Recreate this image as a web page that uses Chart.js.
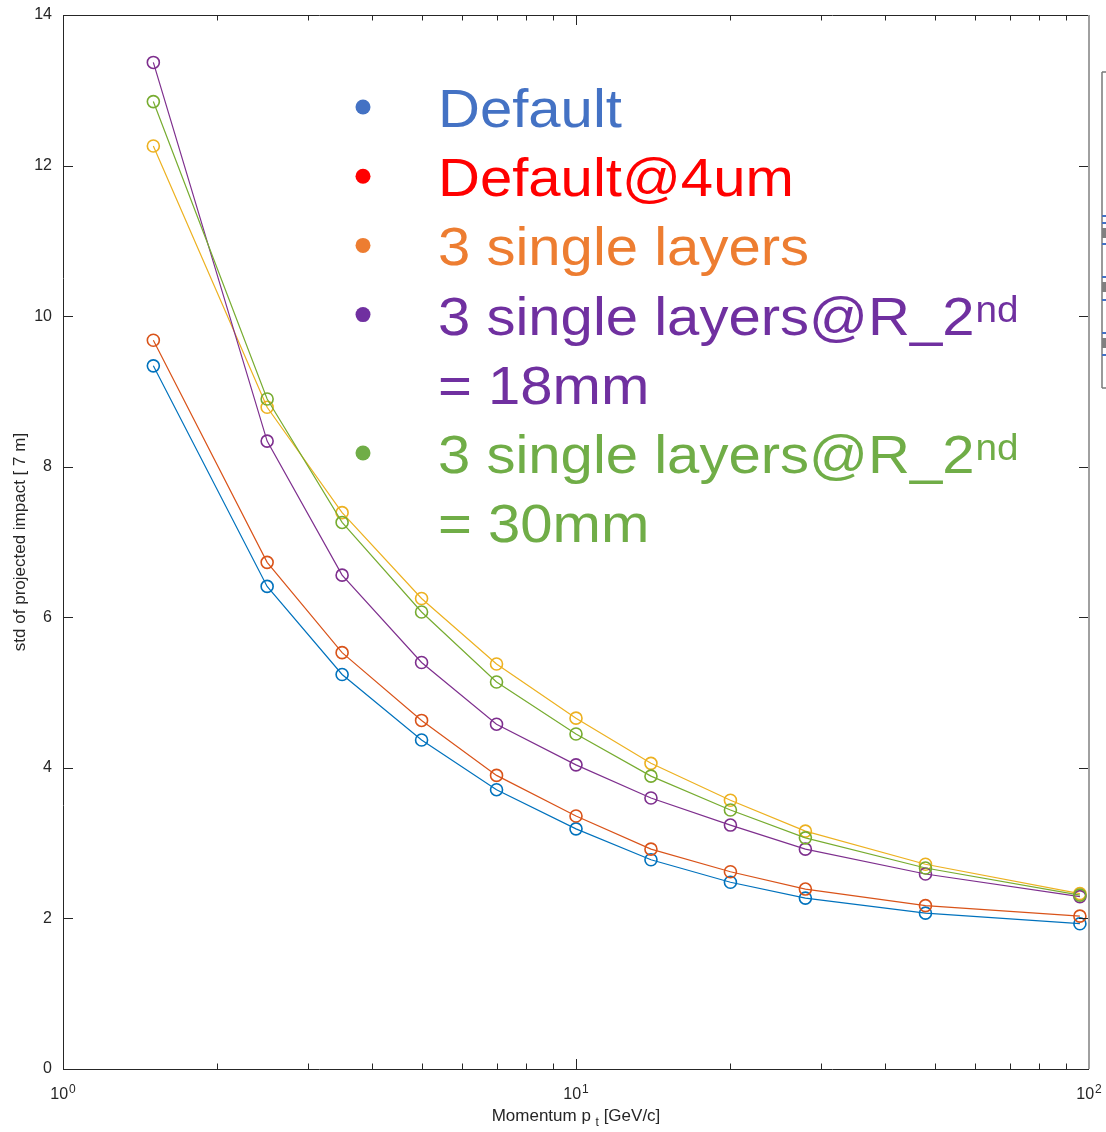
<!DOCTYPE html>
<html lang="en">
<head>
<meta charset="UTF-8">
<title>std of projected impact vs momentum</title>
<script src="https://cdn.jsdelivr.net/npm/chart.js"></script>
<style>
  html, body { margin: 0; padding: 0; background: #fff; }
  canvas { display: block; }
</style>
</head>
<body>
<canvas id="impactChart" width="1106" height="1132"></canvas>
<script>
// transverse momentum of the points [GeV/c]
const momentum = [1.5, 2.5, 3.5, 5, 7, 10, 14, 20, 28, 48, 96];

// std of projected impact, one array per layout
const stdDefault    = [9.34, 6.41, 5.24, 4.37, 3.71, 3.19, 2.78, 2.48, 2.27, 2.07, 1.93];
const stdDefault4um = [9.68, 6.73, 5.53, 4.63, 3.90, 3.36, 2.92, 2.62, 2.39, 2.17, 2.03];
const stdSingle     = [12.26, 8.79, 7.39, 6.25, 5.38, 4.66, 4.06, 3.57, 3.16, 2.72, 2.33];
const stdSingle18   = [13.37, 8.34, 6.56, 5.40, 4.58, 4.04, 3.60, 3.24, 2.92, 2.59, 2.29];
const stdSingle30   = [12.85, 8.90, 7.26, 6.07, 5.14, 4.45, 3.89, 3.44, 3.07, 2.67, 2.31];

const seriesNames = ['Default', 'Default@4um', '3 single layers',
                     '3 single layers@R_2nd = 18mm', '3 single layers@R_2nd = 30mm'];
const seriesValues = [stdDefault, stdDefault4um, stdSingle, stdSingle18, stdSingle30];
const lineColors = ['#0072BD', '#D95319', '#EDB120', '#7E2F8E', '#77AC30'];

// axis ticks
const xMajorTicks = [1, 10, 100];
const xMinorTicks = [2, 3, 4, 5, 6, 7, 8, 9, 20, 30, 40, 50, 60, 70, 80, 90];
const yTicks = [0, 2, 4, 6, 8, 10, 12, 14];

// the pasted text box used as legend
const legendText = ['Default', 'Default@4um', '3 single layers', '3 single layers@R_2',
                    '= 18mm', '3 single layers@R_2', '= 30mm'];
const legendSup = ['', '', '', 'nd', '', 'nd', ''];
const legendColors = ['#4472C4', '#FF0000', '#ED7D31', '#7030A0', '#7030A0', '#70AD47', '#70AD47'];
const legendBullet = [true, true, true, true, false, true, false];

const AXIS = '#262626';
const FONT = '"Liberation Sans", Arial, Helvetica, sans-serif';

// box, inward ticks, x labels with exponents, x title with subscript
const framePlugin = {
    id: 'frame',
    afterDraw(chart) {
        const { ctx, chartArea: a, scales: { x, y } } = chart;
        ctx.save();

        ctx.strokeStyle = AXIS;
        ctx.lineWidth = 1;
        ctx.beginPath();
        const xTick = (v, len) => {
            const px = Math.round(x.getPixelForValue(v)) + 0.5;
            ctx.moveTo(px, a.bottom); ctx.lineTo(px, a.bottom - len);
            ctx.moveTo(px, a.top); ctx.lineTo(px, a.top + len);
        };
        xMinorTicks.forEach(v => xTick(v, 5.5));
        xMajorTicks.forEach(v => xTick(v, 10));
        yTicks.forEach(v => {
            const py = Math.round(y.getPixelForValue(v)) + 0.5;
            ctx.moveTo(a.left, py); ctx.lineTo(a.left + 10, py);
            ctx.moveTo(a.right, py); ctx.lineTo(a.right - 10, py);
        });
        ctx.stroke();

        // left, top, bottom edges
        ctx.beginPath();
        ctx.moveTo(Math.round(a.left) + 0.5, a.top);
        ctx.lineTo(Math.round(a.left) + 0.5, a.bottom);
        ctx.moveTo(a.left, Math.round(a.top) + 0.5);
        ctx.lineTo(a.right, Math.round(a.top) + 0.5);
        ctx.moveTo(a.left, Math.round(a.bottom) + 0.5);
        ctx.lineTo(a.right, Math.round(a.bottom) + 0.5);
        ctx.stroke();
        // right edge is lighter
        ctx.strokeStyle = '#a0a0a0';
        ctx.lineWidth = 2;
        ctx.beginPath();
        ctx.moveTo(a.right, a.top);
        ctx.lineTo(a.right, a.bottom);
        ctx.stroke();

        // x tick labels 10^n
        ctx.fillStyle = AXIS;
        ctx.textBaseline = 'alphabetic';
        ctx.textAlign = 'left';
        xMajorTicks.forEach(v => {
            const px = x.getPixelForValue(v);
            const exp = String(Math.round(Math.log10(v)));
            ctx.font = '16px ' + FONT;
            const wBase = ctx.measureText('10').width;
            ctx.font = '12px ' + FONT;
            const wExp = ctx.measureText(exp).width;
            const start = px - (wBase + 1 + wExp) / 2;
            ctx.font = '16px ' + FONT;
            ctx.fillText('10', start, a.bottom + 30);
            ctx.font = '12px ' + FONT;
            ctx.fillText(exp, start + wBase + 1, a.bottom + 24);
        });

        // x title: Momentum p_t [GeV/c]
        const t1 = 'Momentum p ', t2 = 't', t3 = ' [GeV/c]';
        ctx.font = '17px ' + FONT;
        const w1 = ctx.measureText(t1).width, w3 = ctx.measureText(t3).width;
        ctx.font = '12px ' + FONT;
        const w2 = ctx.measureText(t2).width;
        const cx = (a.left + a.right) / 2;
        const sx = cx - (w1 + w2 + w3) / 2;
        const base = a.bottom + 52;
        ctx.font = '17px ' + FONT;
        ctx.fillText(t1, sx, base);
        ctx.font = '12px ' + FONT;
        ctx.fillText(t2, sx + w1, base + 5);
        ctx.font = '17px ' + FONT;
        ctx.fillText(t3, sx + w1 + w2, base);

        // cropped edge of a neighbouring object at the far right
        ctx.strokeStyle = '#7a7a7a';
        ctx.lineWidth = 1.5;
        ctx.beginPath();
        ctx.moveTo(1102, 72); ctx.lineTo(1102, 388);
        ctx.moveTo(1102, 72); ctx.lineTo(1106, 72);
        ctx.moveTo(1102, 388); ctx.lineTo(1106, 388);
        ctx.stroke();
        ctx.fillStyle = '#4472C4';
        [216, 223, 244, 277, 300, 333, 355].forEach(py => ctx.fillRect(1102, py - 1, 4, 2));
        ctx.fillStyle = '#808080';
        [228, 282, 338].forEach(py => ctx.fillRect(1102, py, 4, 10));

        ctx.restore();
    }
};

// big coloured legend text box over the plot
const legendBoxPlugin = {
    id: 'legendBox',
    afterDraw(chart) {
        const ctx = chart.ctx;
        const textX = 438, bulletX = 363, firstBase = 127, step = 69.2, stretch = 1.075;
        ctx.save();
        ctx.textAlign = 'left';
        ctx.textBaseline = 'alphabetic';
        legendText.forEach((txt, i) => {
            const base = firstBase + i * step;
            ctx.fillStyle = legendColors[i];
            if (legendBullet[i]) {
                ctx.beginPath();
                ctx.arc(bulletX, base - 20, 7.5, 0, Math.PI * 2);
                ctx.fill();
            }
            ctx.save();
            ctx.translate(textX, base);
            ctx.scale(stretch, 1);
            ctx.font = '54px ' + FONT;
            ctx.fillText(txt, 0, 0);
            if (legendSup[i]) {
                const w = ctx.measureText(txt).width;
                ctx.font = '36px ' + FONT;
                ctx.fillText(legendSup[i], w + 1, -13);
            }
            ctx.restore();
        });
        ctx.restore();
    }
};

const ctx = document.getElementById('impactChart').getContext('2d');
const impactChart = new Chart(ctx, {
    type: 'line',
    data: {
        datasets: seriesValues.map((vals, i) => ({
            label: seriesNames[i],
            data: vals.map((v, j) => ({ x: momentum[j], y: v })),
            borderColor: lineColors[i],
            borderWidth: 1.2,
            pointStyle: 'circle',
            pointRadius: 6,
            pointBorderWidth: 1.6,
            pointBorderColor: lineColors[i],
            pointBackgroundColor: 'rgba(0,0,0,0)',
            fill: false,
            tension: 0,
            order: seriesValues.length - i
        }))
    },
    options: {
        responsive: false,
        animation: false,
        layout: { padding: { top: 15, right: 17, left: 0, bottom: 0 } },
        plugins: {
            legend: { display: false },
            tooltip: { enabled: false }
        },
        scales: {
            x: {
                type: 'logarithmic',
                min: 1,
                max: 100,
                grid: { display: false, drawTicks: false },
                border: { display: false },
                ticks: { display: false },
                afterFit(scale) { scale.height = 63; }
            },
            y: {
                type: 'linear',
                min: 0,
                max: 14,
                afterBuildTicks(scale) { scale.ticks = yTicks.map(v => ({ value: v })); },
                grid: { display: false, drawTicks: false },
                border: { display: false },
                ticks: {
                    color: AXIS,
                    padding: 11,
                    font: { family: FONT, size: 16 }
                },
                title: {
                    display: true,
                    text: 'std of projected impact [ 7 m]',
                    color: AXIS,
                    font: { family: FONT, size: 17 },
                    padding: { top: 10, bottom: 0 }
                },
                afterFit(scale) {
                    scale.width = 63;
                    scale.paddingTop = 0;
                    scale.paddingBottom = 0;
                }
            }
        }
    },
    plugins: [framePlugin, legendBoxPlugin]
});
</script>
</body>
</html>
